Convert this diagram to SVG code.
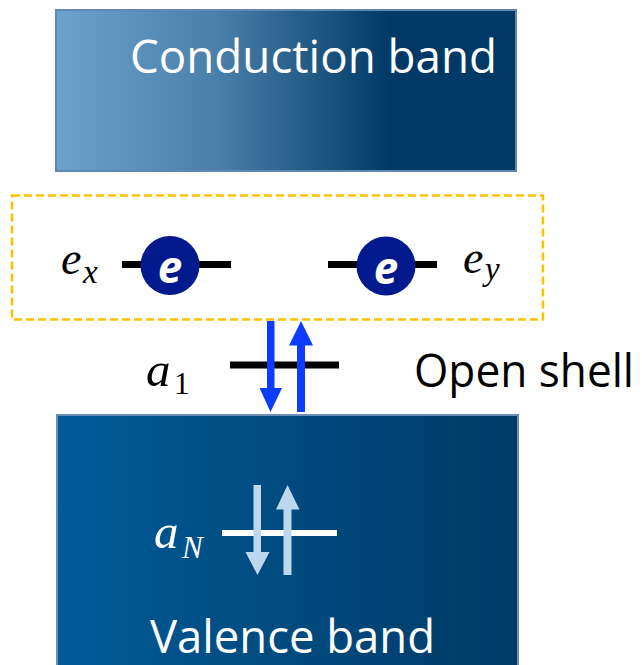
<svg xmlns="http://www.w3.org/2000/svg" width="642" height="665" viewBox="0 0 642 665">
<defs>
<linearGradient id="gCond" x1="0" y1="0" x2="1" y2="0">
<stop offset="0" stop-color="#6ca2cb"/>
<stop offset="0.35" stop-color="#4a7fa9"/>
<stop offset="0.73" stop-color="#003966"/>
<stop offset="1" stop-color="#003966"/>
</linearGradient>
<linearGradient id="gVal" x1="0" y1="0" x2="1" y2="0">
<stop offset="0" stop-color="#005b98"/>
<stop offset="1" stop-color="#003a66"/>
</linearGradient>
<style>
.band{font-family:"Open Sans","Liberation Sans",sans-serif;font-size:46px;fill:#ffffff}
.lbl{font-family:"Open Sans","Liberation Sans",sans-serif;font-size:46px;fill:#000000}
.math{font-family:"Liberation Serif","DejaVu Serif",serif;font-style:italic}
.el{font-family:"Open Sans","Liberation Sans",sans-serif;font-style:italic;font-weight:bold;font-size:44px;fill:#ffffff}
.lev{stroke:#000;stroke-width:7}
.levw{stroke:#ffffff;stroke-width:6}
.blue{fill:#0d3cff}
.light{fill:#bdd7ee}
.circ{fill:#03198e}
</style>
</defs>

<g id="conduction-band">
<rect x="56" y="10" width="460" height="161" fill="url(#gCond)" stroke="#5d88b0" stroke-width="2"/>
<text class="band" x="130" y="73" textLength="367" lengthAdjust="spacingAndGlyphs">Conduction band</text>
</g>

<g id="valence-band">
<rect x="57" y="415" width="461" height="260" fill="url(#gVal)" stroke="#6a8fb3" stroke-width="2"/>
<text class="band" x="150" y="653" textLength="285" lengthAdjust="spacingAndGlyphs">Valence band</text>
</g>

<g id="open-shell-box">
<rect x="12" y="195.5" width="531" height="124" fill="none" stroke="#ffc000" stroke-width="2.5" stroke-dasharray="8 4"/>
</g>

<g id="ex-level">
<line class="lev" x1="122" y1="264.5" x2="231" y2="264.5"/>
<circle class="circ" cx="170" cy="265.5" r="29.5"/>
<text class="el" x="170" y="283" text-anchor="middle">e</text>
<text class="math" x="61" y="274" font-size="46">e</text>
<text class="math" x="83" y="283" font-size="33">x</text>
</g>

<g id="ey-level">
<line class="lev" x1="328" y1="264.5" x2="437" y2="264.5"/>
<circle class="circ" cx="386" cy="266" r="29.5"/>
<text class="el" x="386" y="284" text-anchor="middle">e</text>
<text class="math" x="463" y="273" font-size="46">e</text>
<text class="math" x="485" y="280" font-size="33">y</text>
</g>

<g id="a1-level">
<line class="lev" x1="230" y1="365" x2="339" y2="365"/>
<text class="math" x="146" y="386" font-size="49">a</text>
<text font-family="Liberation Serif, DejaVu Serif, serif" x="174" y="394" font-size="31">1</text>
</g>

<g id="open-shell-label">
<text class="lbl" x="414" y="387" textLength="220" lengthAdjust="spacingAndGlyphs">Open shell</text>
</g>

<g id="aN-level">
<line class="levw" x1="222" y1="533" x2="337" y2="533"/>
<text class="math" x="154" y="548" font-size="49" fill="#ffffff">a</text>
<text class="math" x="182" y="558" font-size="31" fill="#ffffff">N</text>
</g>

<g id="connectors">
<rect class="blue" x="267" y="321" width="7.5" height="68"/>
<polygon class="blue" points="259.5,388 282,388 270.5,412"/>
<polygon class="blue" points="289,345.5 313,345.5 301,321"/>
<rect class="blue" x="297" y="344" width="8" height="68"/>
<rect class="light" x="253.5" y="485" width="7.5" height="68"/>
<polygon class="light" points="245.5,552 269.5,552 257.5,575"/>
<polygon class="light" points="276,509.5 299.5,509.5 287.5,485"/>
<rect class="light" x="283.5" y="508" width="8" height="67"/>
</g>
</svg>
